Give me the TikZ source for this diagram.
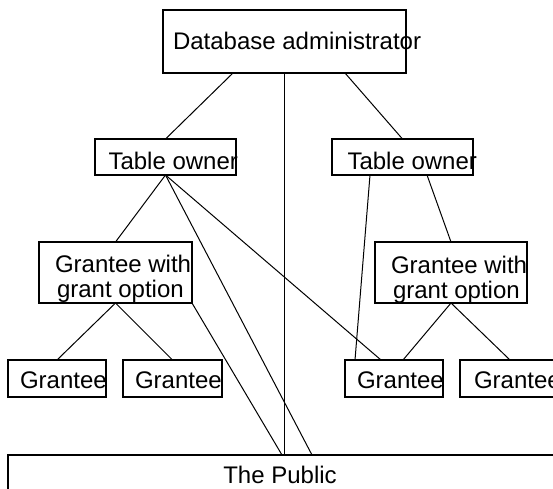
\documentclass[tikz,border=0pt]{standalone}
\usepackage{fontspec}
\setmainfont{Liberation Sans}
\usetikzlibrary{calc}
\begin{document}
\begin{tikzpicture}[x=1pt,y=-1pt,
  box/.style={draw,line width=2pt,inner sep=0pt,outer sep=0pt,rectangle,fill=white},
  txt/.style={inner sep=0pt,outer sep=0pt,font=\fontsize{24}{28}\selectfont},
  conn/.style={line width=1pt}]
\useasboundingbox (0,0) rectangle (553,488);
\clip (0,0) rectangle (553,488);
% boxes
\node[box,minimum width=243pt,minimum height=63pt] (dba) at (284.5,41.5) {};
\node[box,minimum width=141pt,minimum height=36pt] (tol) at (165.5,157) {};
\node[box,minimum width=141pt,minimum height=36pt] (tor) at (402.5,157) {};
\node[box,minimum width=153pt,minimum height=61pt] (gwl) at (115.5,272.5) {};
\node[box,minimum width=152pt,minimum height=61pt] (gwr) at (451,272.5) {};
\node[box,minimum width=98pt,minimum height=37pt] (g1) at (57,378.5) {};
\node[box,minimum width=99pt,minimum height=37pt] (g2) at (172.5,378.5) {};
\node[box,minimum width=98pt,minimum height=37pt] (g3) at (394,378.5) {};
\node[box,minimum width=110pt,minimum height=37pt] (g4) at (515,378.5) {};
\node[box,minimum width=600pt,minimum height=80pt] (pub) at (308,495) {};
% connectors
\draw[conn] ($(dba.south west)+(70,0)$) -- (tol.north);
\draw[conn] (dba.south) -- (dba.south |- pub.north);
\draw[conn] ($(dba.south west)+(182,0)$) -- (tor.north);
\draw[conn] (tol.south) -- (gwl.north);
\draw[conn] (tol.south) -- ($(pub.north west)+(304,0)$);
\draw[conn] (tol.south) -- ($(g3.north west)+(36,0)$);
\draw[conn] (gwl.south east) -- ($(pub.north west)+(274,0)$);
\draw[conn] (gwl.south) -- (g1.north);
\draw[conn] (gwl.south) -- (g2.north);
\draw[conn] ($(tor.south west)+(38,0)$) -- ($(g3.north west)+(10,0)$);
\draw[conn] ($(tor.south west)+(95,0)$) -- (gwr.north);
\draw[conn] (gwr.south) -- ($(g3.north west)+(58,0)$);
\draw[conn] (gwr.south) -- ($(g4.north west)+(50,0)$);
% texts
\node[txt,anchor=base west] (tdba) at (173,49) {Database administrator};
\node[txt,anchor=base west] (ttol) at (108.5,169) {Table owner};
\node[txt,anchor=base west] (ttor) at (347.5,169) {Table owner};
\node[txt,anchor=base west] (tgwl1) at (55,272) {Grantee with};
\node[txt,anchor=base west] (tgwl2) at (57,297) {grant option};
\node[txt,anchor=base west] (tgwr1) at (391,273) {Grantee with};
\node[txt,anchor=base west] (tgwr2) at (393,298) {grant option};
\node[txt,anchor=base west] (tg1) at (20,388) {Grantee};
\node[txt,anchor=base west] (tg2) at (135,388) {Grantee};
\node[txt,anchor=base west] (tg3) at (357,388) {Grantee};
\node[txt,anchor=base west] (tg4) at (474,388) {Grantee};
\node[txt,anchor=base] (tpub) at (280,483) {The Public};
\end{tikzpicture}
\end{document}
